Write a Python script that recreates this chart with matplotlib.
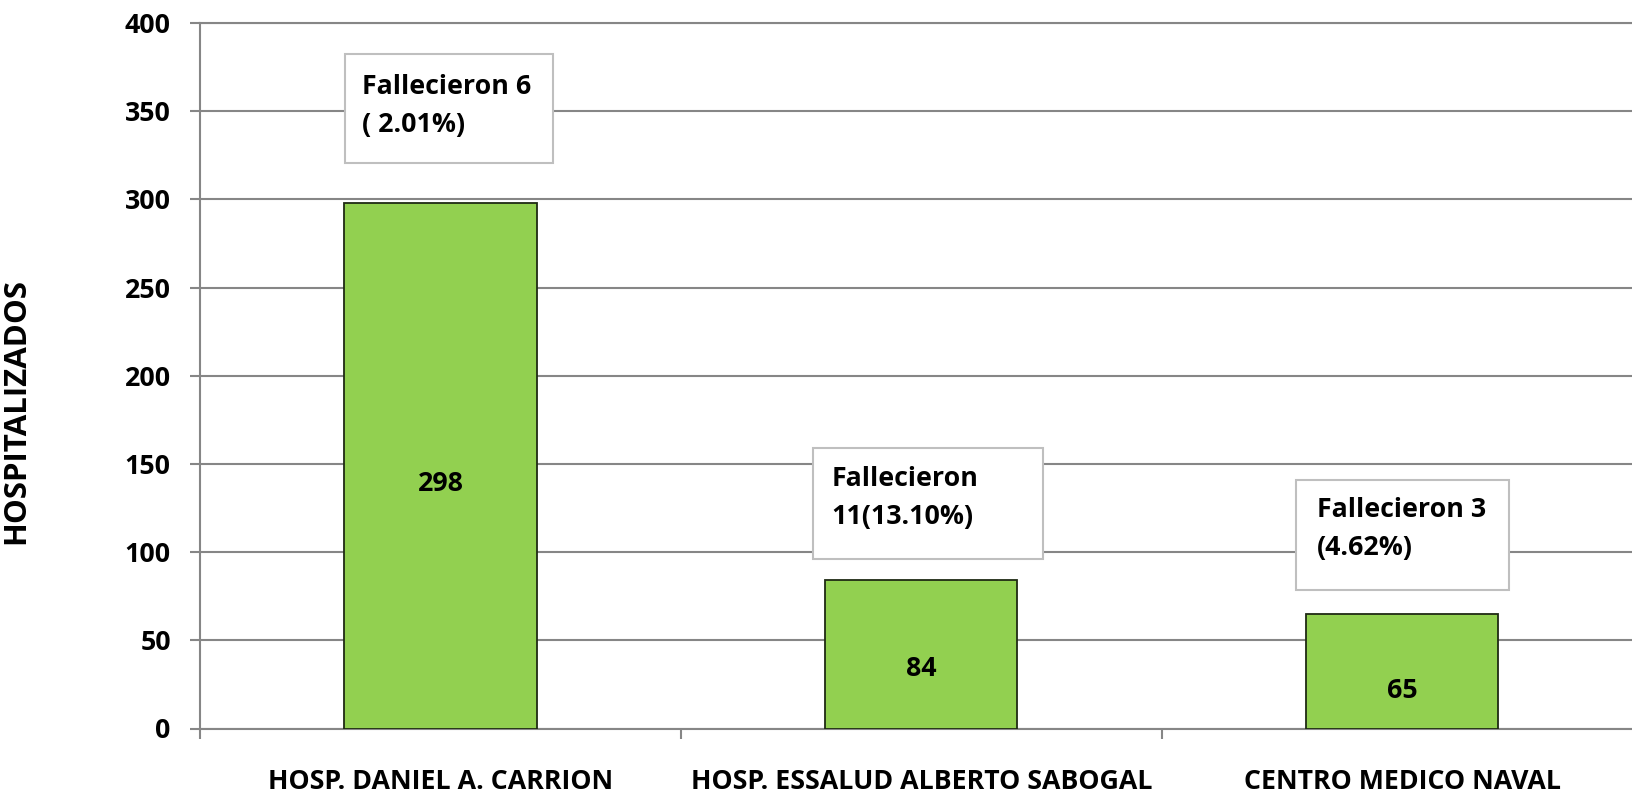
import matplotlib
matplotlib.use("Agg")
import matplotlib.pyplot as plt
from matplotlib.patches import Rectangle

plt.rcParams['font.family'] = ['Open Sans', 'DejaVu Sans']
plt.rcParams['font.weight'] = 'bold'

# datos
hospitales = ['HOSP. DANIEL A. CARRION', 'HOSP. ESSALUD ALBERTO SABOGAL', 'CENTRO MEDICO NAVAL']
hospitalizados = [298, 84, 65]
notas = ['Fallecieron 6\n( 2.01%)', 'Fallecieron\n11(13.10%)', 'Fallecieron 3\n(4.62%)']

# posicion de las etiquetas y cuadros (en unidades de datos)
etiqueta_y = [138.6, 33.6, 21.2]
cuadros = [(-0.199, 0.2335, 320.9, 382.7), (-0.226, 0.253, 96.2, 158.8), (-0.221, 0.2225, 78.5, 141.1)]
texto_pos = [(-0.163, 352.9), (-0.187, 130.7), (-0.178, 113.2)]

gris = '#868686'
fs = 19.3

fig = plt.figure(figsize=(16.32, 7.93), dpi=100)
ax = fig.add_axes([200 / 1632, 1 - 728.5 / 793, 1432 / 1632, 705.5 / 793])

x = range(len(hospitales))
bars = ax.bar(x, hospitalizados, width=0.4, color='#92D050', edgecolor='#1f2a14', linewidth=1.3, zorder=3)

for i, b in enumerate(bars):
    ax.text(b.get_x() + b.get_width() / 2, etiqueta_y[i], str(hospitalizados[i]),
            ha='center', va='center', fontsize=fs, fontweight='bold', zorder=4)

for i, (x0, x1, y0, y1) in enumerate(cuadros):
    ax.add_patch(Rectangle((i + x0, y0), x1 - x0, y1 - y0, facecolor='white',
                           edgecolor='#BFBFBF', linewidth=1.5, zorder=4))
    tx, ty = texto_pos[i]
    ax.text(i + tx, ty, notas[i], ha='left', va='center', fontsize=fs,
            fontweight='bold', linespacing=1.6, zorder=5)

ax.set_xlim(-0.5, 2.478)
ax.set_ylim(0, 400)
ax.set_yticks(range(0, 401, 50))
ax.grid(axis='y', color=gris, linewidth=1.5, zorder=0)
ax.set_axisbelow(True)

ax.spines['right'].set_visible(False)
for s in ['left', 'bottom', 'top']:
    ax.spines[s].set_color(gris)
    ax.spines[s].set_linewidth(1.5)

ax.set_xticks(list(x))
ax.set_xticklabels(hospitales, fontsize=fs, fontweight='bold')
ax.set_xticks([-0.5, 0.5, 1.5], minor=True)
ax.tick_params(axis='x', which='major', length=0, pad=29)
ax.tick_params(axis='x', which='minor', length=7, width=1.5, color=gris)
ax.tick_params(axis='y', length=7, width=1.5, color=gris, labelsize=fs, pad=14)
for lbl in ax.get_yticklabels():
    lbl.set_fontweight('bold')

ax.set_ylabel('HOSPITALIZADOS', fontsize=22.5, fontweight='bold')
ax.yaxis.set_label_coords(-0.118, 0.45)

fig.savefig('out.png', dpi=100)
